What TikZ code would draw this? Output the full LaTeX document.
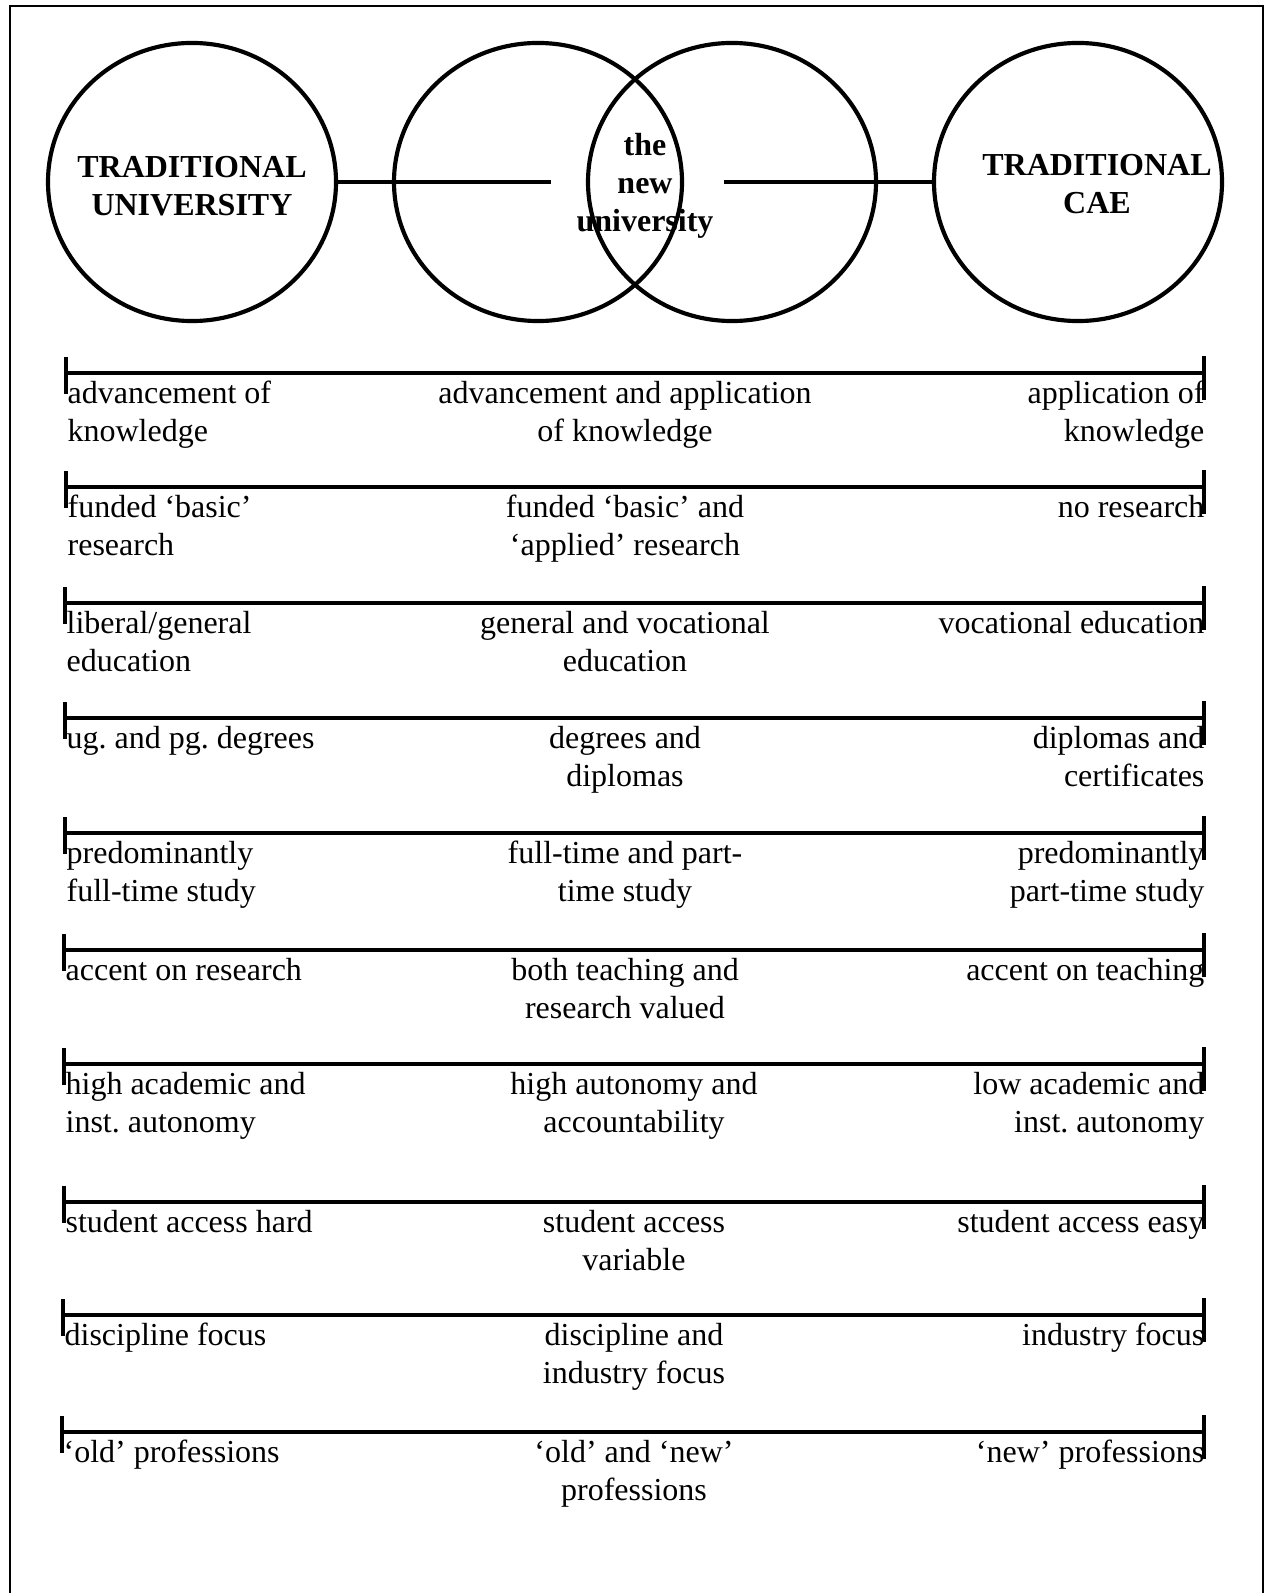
\documentclass[tikz,border=0pt]{standalone}
\usepackage{fontspec}
\setmainfont{Liberation Serif}
\usetikzlibrary{shapes.geometric}
\frenchspacing
% one scale: name, left x, y, middle x, left text, middle text, right text
\newcommand{\scalerow}[7]{%
	\coordinate (#1L) at (#2,#3);
	\coordinate (#1R) at (1204,#3);
	\draw[bar] (#1L) -- (#1R);
	\draw[tick] (#1L) ++(0,-16) -- ++(0,37);
	\draw[tick] (#1R) ++(0,-17) -- ++(0,44);
	\node[lefttext] (#1l) at (#2+1,#3+4) {\strut #5};
	\node[midtext] (#1m) at (#4,#3+4) {\strut #6};
	\node[righttext] (#1r) at (1205,#3+4) {\strut #7};
}

\begin{document}
\begin{tikzpicture}[x=0.3125pt, y=-0.3125pt,
		frame/.style={line width=0.7pt},
		ring/.style={draw, ellipse, line width=1.3pt, inner sep=0pt, minimum width=90pt, minimum height=86.9pt},
		link/.style={line width=1.3pt},
		bar/.style={line width=1.3pt},
		tick/.style={line width=1.3pt},
		lbl/.style={inner sep=0pt, font=\fontsize{10}{11.75}\selectfont},
		ringtext/.style={lbl, align=center, anchor=north, font=\fontsize{10}{11.75}\selectfont\bfseries},
		lefttext/.style={lbl, align=left, anchor=north west},
		midtext/.style={lbl, align=center, anchor=north},
		righttext/.style={lbl, align=right, anchor=north east}]
		%%%%% START %%%%%
		
		\useasboundingbox (0,0) rectangle (1269,1593);
		\draw[frame] (10,1593) -- (10,6) -- (1263,6) -- (1263,1593);
		
		% circles
		\node[ring] (tu) at (192,182) {};
		\node[ring] (nl) at (538,182) {};
		\node[ring] (nr) at (732,182) {};
		\node[ring] (tc) at (1078,182) {};
		
		\node[ringtext] (tutext) at (192,151) {\strut TRADITIONAL\\UNIVERSITY};
		\node[ringtext] (nutext) at (645,129) {\strut the\\new\\university};
		\node[ringtext] (tctext) at (1097,149) {\strut TRADITIONAL\\CAE};
		
		\coordinate (lgap) at (551,182);
		\coordinate (rgap) at (724,182);
		\draw[link] (tu.east) -- (lgap);
		\draw[link] (rgap) -- (tc.west);
		
		% scales
		\scalerow{adv}{66}{373}{625}{advancement of\\knowledge}{advancement and application\\of knowledge}{application of\\knowledge}
		\scalerow{res}{66}{487}{625}{funded ‘basic’\\research}{funded ‘basic’ and\\‘applied’ research}{no research}
		\scalerow{edu}{65}{603}{625}{liberal/general\\education}{general and vocational\\education}{vocational education}
		\scalerow{deg}{65}{718}{625}{ug. and pg. degrees}{degrees and\\diplomas}{diplomas and\\certificates}
		\scalerow{mod}{65}{833}{625}{predominantly\\full-time study}{full-time and part-\\time study}{predominantly\\part-time study}
		\scalerow{tea}{64}{950}{625}{accent on research}{both teaching and\\research valued}{accent on teaching}
		\scalerow{aut}{64}{1064}{634}{high academic and\\inst. autonomy}{high autonomy and\\accountability}{low academic and\\inst. autonomy}
		\scalerow{acc}{64}{1202}{634}{student access hard}{student access\\variable}{student access easy}
		\scalerow{foc}{63}{1315}{634}{discipline focus}{discipline and\\industry focus}{industry focus}
		\scalerow{pro}{62}{1432}{634}{‘old’ professions}{‘old’ and ‘new’\\professions}{‘new’ professions}
		
		%%%%% END %%%%%
\end{tikzpicture}
\end{document}
